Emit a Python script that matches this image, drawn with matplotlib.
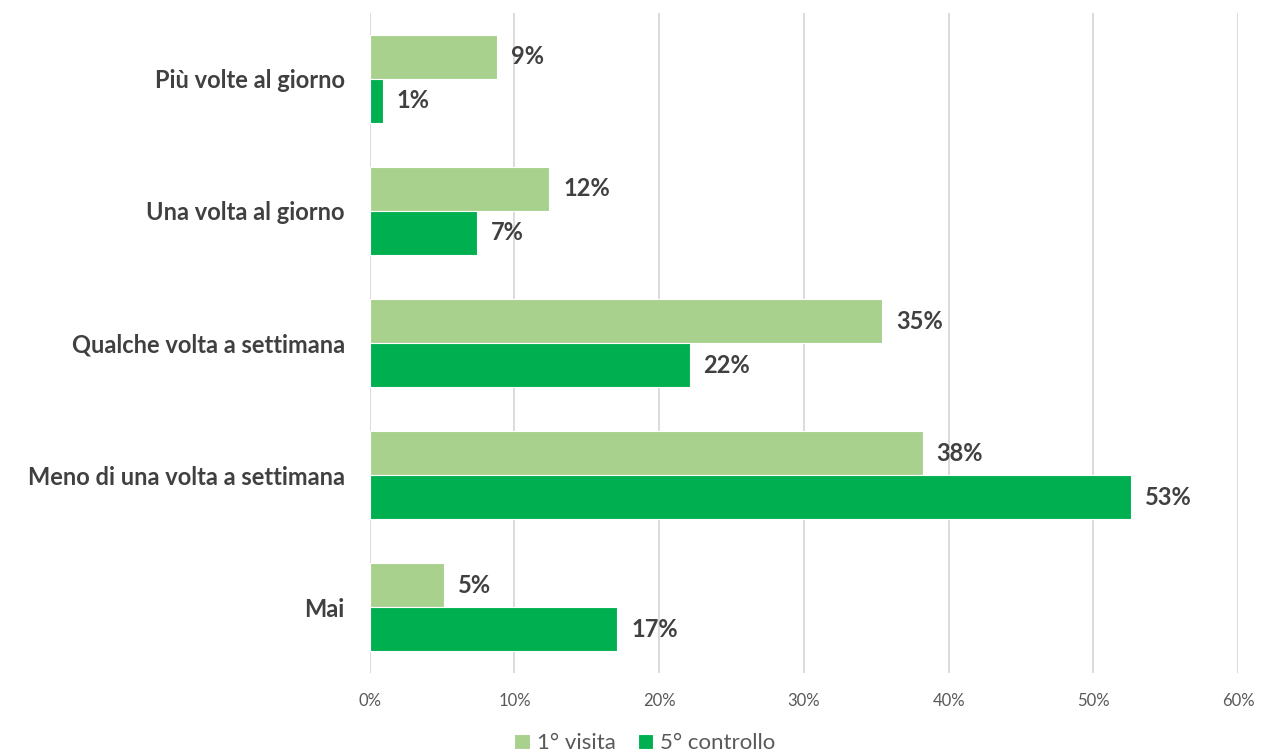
import numpy as np
import matplotlib
matplotlib.use('Agg')
import matplotlib.pyplot as plt
from matplotlib.ticker import FuncFormatter

# Dati (percentuali)
categorie = ['Più volte al giorno', 'Una volta al giorno', 'Qualche volta a settimana',
             'Meno di una volta a settimana', 'Mai']
prima_visita = [8.8, 12.4, 35.4, 38.2, 5.1]
quinto_controllo = [0.9, 7.4, 22.1, 52.6, 17.1]
serie = ['1° visita', '5° controllo']
colori = ['#A9D18E', '#00B050']

plt.rcParams['font.family'] = ['Lato', 'DejaVu Sans']

fig = plt.figure(figsize=(12.62, 7.54), dpi=100)
ax = fig.add_axes([0.293, 0.107, 0.688, 0.876])

y = np.arange(len(categorie))
h = 1 / 3

b1 = ax.barh(y - h / 2, prima_visita, height=h, color=colori[0], edgecolor='white',
             linewidth=0.8, label=serie[0], zorder=3)
b2 = ax.barh(y + h / 2, quinto_controllo, height=h, color=colori[1], edgecolor='white',
             linewidth=0.8, label=serie[1], zorder=3)

for bars, vals in [(b1, prima_visita), (b2, quinto_controllo)]:
    for rect, v in zip(bars, vals):
        ax.annotate(f'{v:.0f}%', (rect.get_width(), rect.get_y() + rect.get_height() / 2),
                    xytext=(10, 0), textcoords='offset points', va='center', ha='left',
                    fontsize=17, fontweight='bold', color='#404040')

ax.set_xlim(0, 60)
ax.set_ylim(len(categorie) - 0.5, -0.5)
ax.set_xticks(np.arange(0, 61, 10))
ax.xaxis.set_major_formatter(FuncFormatter(lambda x, p: f'{x:.0f}%'))
ax.set_yticks(y)
ax.set_yticklabels(categorie, fontsize=17, fontweight='bold', color='#404040')
ax.tick_params(axis='y', length=0, pad=18)
ax.tick_params(axis='x', length=0, pad=14, labelsize=12, labelcolor='#595959')

ax.grid(axis='x', color='#D9D9D9', linewidth=1.3, zorder=0)
for s in ax.spines.values():
    s.set_visible(False)

fig.legend(handles=[b1, b2], labels=serie, loc='center', bbox_to_anchor=(0.511, 0.014),
           ncol=2, frameon=False, fontsize=16, labelcolor='#595959', handlelength=0.7,
           handleheight=0.7, handletextpad=0.3, columnspacing=1.0)

fig.savefig('out.png', dpi=100)
